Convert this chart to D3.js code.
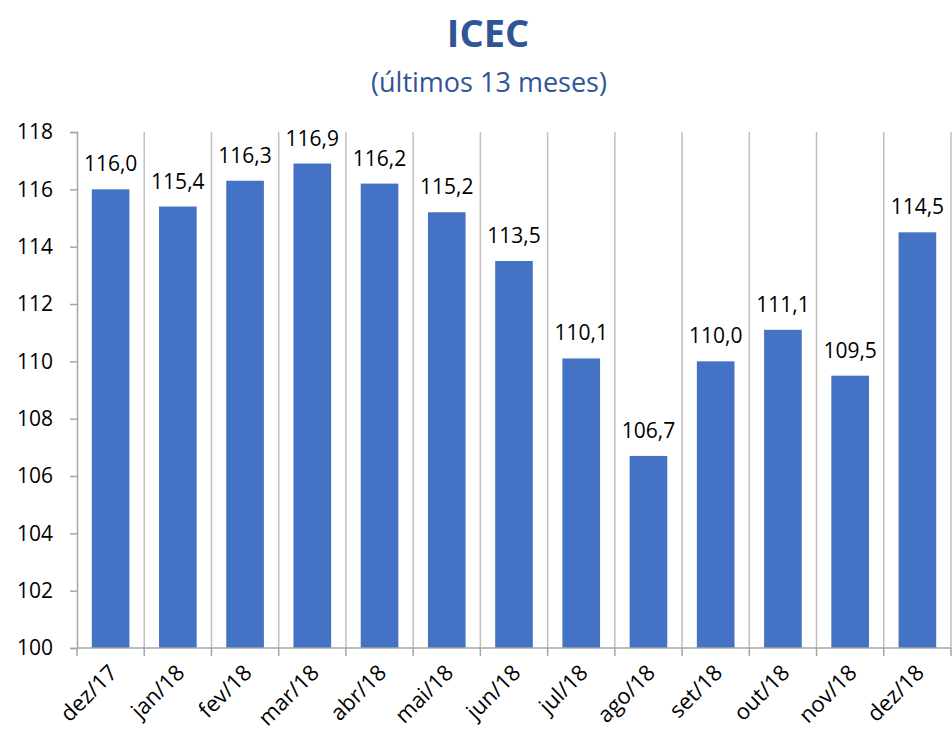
<!DOCTYPE html>
<html>
<head>
<meta charset="utf-8">
<script src="https://cdn.jsdelivr.net/npm/d3@7"></script>
<style>
  body { margin: 0; background: #fff; }
  text { font-family: "Open Sans", "Noto Sans", sans-serif; }
</style>
</head>
<body>
<div id="viz"></div>
<script>
// ICEC - last 13 months
const months = ["dez/17", "jan/18", "fev/18", "mar/18", "abr/18", "mai/18", "jun/18",
  "jul/18", "ago/18", "set/18", "out/18", "nov/18", "dez/18"];
const values = [116.0, 115.4, 116.3, 116.9, 116.2, 115.2, 113.5, 110.1, 106.7, 110.0, 111.1, 109.5, 114.5];
const yTicks = [100, 102, 104, 106, 108, 110, 112, 114, 116, 118];

const width = 952, height = 738;
const margin = { top: 132, right: 1, bottom: 90, left: 77 };

const svg = d3.select("#viz").append("svg")
  .attr("width", width)
  .attr("height", height);

const x = d3.scaleBand().domain(months)
  .range([margin.left, width - margin.right])
  .paddingInner(0.44).paddingOuter(0.22);
const y = d3.scaleLinear().domain([100, 118]).range([height - margin.bottom, margin.top]);

const fmt = v => v.toFixed(1).replace(".", ",");

// title
svg.append("text")
  .attr("x", 488).attr("y", 47)
  .attr("text-anchor", "middle")
  .attr("font-size", 38).attr("font-weight", "bold")
  .attr("fill", "#2F5597")
  .text("ICEC");
svg.append("text")
  .attr("x", 489).attr("y", 92)
  .attr("text-anchor", "middle")
  .attr("font-size", 27)
  .attr("fill", "#2F5597")
  .text("(últimos 13 meses)");

// vertical gridlines at category boundaries
const bounds = d3.range(months.length + 1).map(i => margin.left + i * (width - margin.left - margin.right) / months.length);
svg.append("g").selectAll("line")
  .data(bounds.slice(1))
  .join("line")
  .attr("x1", d => d).attr("x2", d => d)
  .attr("y1", y(118)).attr("y2", y(100))
  .attr("stroke", "#BFBFBF").attr("stroke-width", 1.5);

// bars
svg.append("g").selectAll("rect")
  .data(values)
  .join("rect")
  .attr("x", (d, i) => x(months[i]))
  .attr("y", d => y(d))
  .attr("width", x.bandwidth())
  .attr("height", d => y(100) - y(d))
  .attr("fill", "#4472C4");

// value labels
svg.append("g").selectAll("text")
  .data(values)
  .join("text")
  .attr("x", (d, i) => x(months[i]) + x.bandwidth() / 2)
  .attr("y", d => y(d) - 18)
  .attr("text-anchor", "middle")
  .attr("font-size", 21)
  .attr("fill", "#000")
  .text(fmt);

// y axis
const yAxis = svg.append("g")
  .attr("transform", `translate(${margin.left},0)`)
  .call(d3.axisLeft(y).tickValues(yTicks).tickSize(7).tickPadding(17).tickFormat(d3.format("d")));
yAxis.select(".domain").attr("stroke", "#A6A6A6").attr("stroke-width", 1.5);
yAxis.selectAll(".tick line").attr("stroke", "#A6A6A6").attr("stroke-width", 1.5);
yAxis.selectAll(".tick text").attr("font-size", 21).attr("fill", "#000")
  .attr("font-family", "'Open Sans', 'Noto Sans', sans-serif");

// x axis line and ticks
svg.append("line")
  .attr("x1", margin.left).attr("x2", width - margin.right)
  .attr("y1", y(100)).attr("y2", y(100))
  .attr("stroke", "#A6A6A6").attr("stroke-width", 1.5);
svg.append("g").selectAll("line")
  .data(bounds)
  .join("line")
  .attr("x1", d => d).attr("x2", d => d)
  .attr("y1", y(100)).attr("y2", y(100) + 8)
  .attr("stroke", "#A6A6A6").attr("stroke-width", 1.5);

// x labels rotated
svg.append("g").selectAll("text")
  .data(months)
  .join("text")
  .attr("transform", d => `translate(${x(d) + x.bandwidth() / 2 + 8},${y(100) + 26}) rotate(-45)`)
  .attr("text-anchor", "end")
  .attr("font-size", 22)
  .attr("fill", "#000")
  .text(d => d);
</script>
</body>
</html>
